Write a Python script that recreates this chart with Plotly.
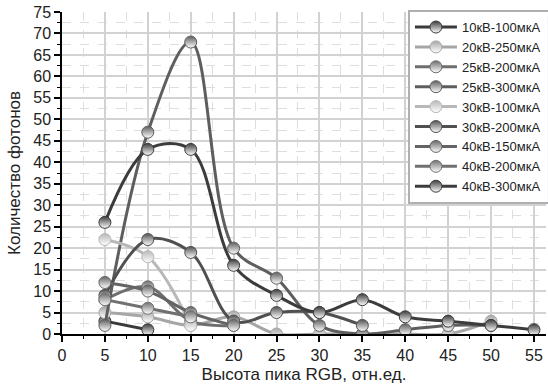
import plotly.graph_objects as go

x_vals = [5, 10, 15, 20, 25, 30, 35, 40, 45, 50, 55]

names = ["10кВ-100мкА", "20кВ-250мкА", "25кВ-200мкА", "25кВ-300мкА", "30кВ-100мкА",
         "30кВ-200мкА", "40кВ-150мкА", "40кВ-200мкА", "40кВ-300мкА"]

s_10_100 = [3, 1]
s_20_250 = [5, 4, 2, 4, 0, 0, 0, 0, 0, 3]
s_25_200 = [8, 11, 3, 2]
s_25_300 = [2, 47, 68, 20, 13, 2, 0, 1, 2, 2]
s_30_100 = [22, 18, 2]
s_30_200 = [9, 22, 19, 3, 5, 5, 2]
s_40_150 = [12, 10, 5, 2]
s_40_200 = [8, 6, 4]
s_40_300 = [26, 43, 43, 16, 9, 5, 8, 4, 3, 2, 1]

series = [s_10_100, s_20_250, s_25_200, s_25_300, s_30_100,
          s_30_200, s_40_150, s_40_200, s_40_300]
colors = ["#3a3a3a", "#a6a6a6", "#6e6e6e", "#5e5e5e", "#b8b8b8",
          "#505050", "#646464", "#707070", "#3c3c3c"]

FONT = "Liberation Sans, Arial, sans-serif"

fig = go.Figure()
for name, ys, col in zip(names, series, colors):
    fig.add_trace(go.Scatter(
        x=x_vals[:len(ys)], y=ys, name=name, mode="lines+markers",
        line=dict(color=col, width=3, shape="spline", smoothing=1.0),
        marker=dict(symbol="circle", size=12, color=col,
                    gradient=dict(type="vertical", color="white"),
                    line=dict(color=col, width=1)),
    ))

axis_common = dict(
    showline=True, linecolor="black", linewidth=1.5,
    ticks="outside", ticklen=6, tickwidth=1.5, tickcolor="black",
    showgrid=True, gridcolor="#d2d2d2", gridwidth=1.5,
    zeroline=False,
    tickfont=dict(family=FONT, size=16, color="#222"),
    minor=dict(ticks="outside", ticklen=3, tickwidth=1, tickcolor="black",
               showgrid=True, gridcolor="#dedede", griddash="dash", gridwidth=1,
               dtick=2.5),
)

fig.update_xaxes(range=[0, 56.4], dtick=5, tick0=0,
                 title=dict(text="Высота пика RGB, отн.ед.",
                            font=dict(family=FONT, size=17, color="#222"),
                            standoff=5),
                 **axis_common)
fig.update_yaxes(range=[0, 75], dtick=5, tick0=0,
                 title=dict(text="Количество фотонов",
                            font=dict(family=FONT, size=17, color="#222"),
                            standoff=8),
                 **axis_common)

fig.update_layout(
    width=548, height=387,
    margin=dict(l=62, r=2, t=12, b=53, autoexpand=False),
    plot_bgcolor="white", paper_bgcolor="white",
    legend=dict(x=1.004, y=1.006, xanchor="right", yanchor="top",
                bgcolor="white", bordercolor="#b0b0b0", borderwidth=2,
                font=dict(family=FONT, size=13, color="#222"),
                tracegroupgap=0, itemwidth=42),
)

fig.write_html("out.html", config={"displayModeBar": False},
               post_script="document.body.style.margin='0';document.body.style.padding='0';")
